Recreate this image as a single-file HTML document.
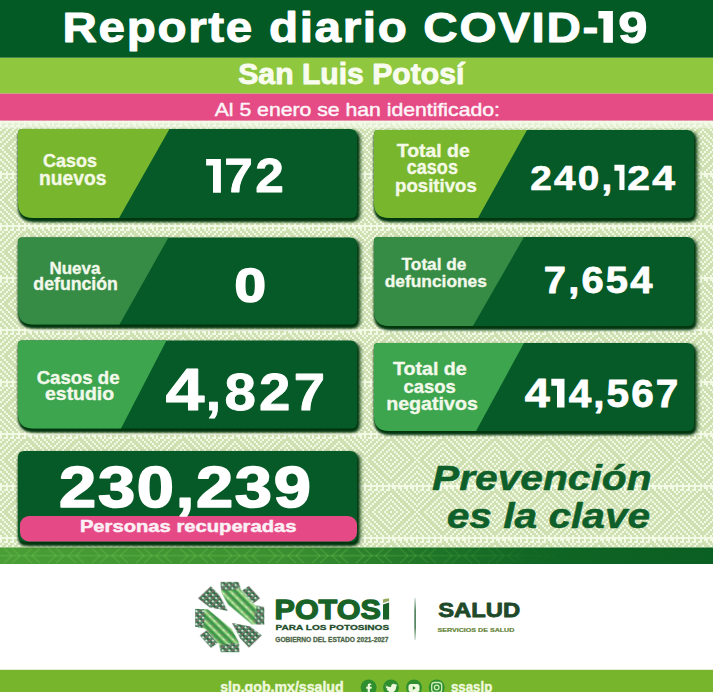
<!DOCTYPE html>
<html><head><meta charset="utf-8">
<style>
html,body{margin:0;padding:0;background:#fff;}
body{width:718px;height:692px;overflow:hidden;position:relative;}
svg{position:absolute;left:0;top:0;display:block;}
text{font-family:"Liberation Sans",sans-serif;}
</style></head><body>
<svg width="718" height="692" viewBox="0 0 718 692">
<defs>
<filter id="blur2" x="-5%" y="-10%" width="110%" height="130%"><feGaussianBlur stdDeviation="1.9"/></filter>
<filter id="blur" x="-5%" y="-10%" width="110%" height="130%"><feGaussianBlur stdDeviation="0.9"/></filter>
<pattern id="greca" x="0" y="121" width="52" height="52" patternUnits="userSpaceOnUse">
<rect width="52" height="52" fill="#cfe1b3"/>
<path d="M0 0h52v2h-52zM0 2h2v2h-2zM6 2h2v2h-2zM12 2h2v2h-2zM18 2h2v2h-2zM24 2h2v2h-2zM28 2h4v2h-4zM34 2h4v2h-4zM40 2h4v2h-4zM46 2h4v2h-4zM0 4h2v2h-2zM4 4h4v2h-4zM10 4h4v2h-4zM16 4h4v2h-4zM22 4h4v2h-4zM30 4h2v2h-2zM36 4h2v2h-2zM42 4h2v2h-2zM48 4h2v2h-2zM2 6h2v2h-2zM8 6h2v2h-2zM14 6h2v2h-2zM20 6h2v2h-2zM32 6h2v2h-2zM38 6h2v2h-2zM44 6h2v2h-2zM50 6h2v2h-2zM0 8h2v2h-2zM6 8h2v2h-2zM12 8h2v2h-2zM18 8h2v2h-2zM26 8h2v2h-2zM34 8h2v2h-2zM40 8h2v2h-2zM46 8h2v2h-2zM4 10h2v2h-2zM10 10h2v2h-2zM16 10h2v2h-2zM24 10h2v2h-2zM28 10h2v2h-2zM36 10h2v2h-2zM42 10h2v2h-2zM48 10h2v2h-2zM2 12h2v2h-2zM8 12h2v2h-2zM14 12h2v2h-2zM22 12h2v2h-2zM30 12h2v2h-2zM38 12h2v2h-2zM44 12h2v2h-2zM50 12h2v2h-2zM0 14h2v2h-2zM6 14h2v2h-2zM12 14h2v2h-2zM20 14h2v2h-2zM26 14h2v2h-2zM32 14h2v2h-2zM40 14h2v2h-2zM46 14h2v2h-2zM4 16h2v2h-2zM10 16h2v2h-2zM18 16h2v2h-2zM24 16h2v2h-2zM28 16h2v2h-2zM34 16h2v2h-2zM42 16h2v2h-2zM48 16h2v2h-2zM2 18h2v2h-2zM8 18h2v2h-2zM16 18h2v2h-2zM22 18h2v2h-2zM30 18h2v2h-2zM36 18h2v2h-2zM44 18h2v2h-2zM50 18h2v2h-2zM0 20h2v2h-2zM6 20h2v2h-2zM14 20h2v2h-2zM20 20h2v2h-2zM26 20h2v2h-2zM32 20h2v2h-2zM38 20h2v2h-2zM46 20h2v2h-2zM4 22h2v2h-2zM12 22h2v2h-2zM18 22h2v2h-2zM24 22h2v2h-2zM28 22h2v2h-2zM34 22h2v2h-2zM40 22h2v2h-2zM48 22h2v2h-2zM2 24h2v2h-2zM10 24h2v2h-2zM16 24h2v2h-2zM22 24h2v2h-2zM30 24h2v2h-2zM36 24h2v2h-2zM42 24h2v2h-2zM50 24h2v2h-2zM0 26h2v2h-2zM8 26h2v2h-2zM14 26h2v2h-2zM20 26h2v2h-2zM26 26h2v2h-2zM32 26h2v2h-2zM38 26h2v2h-2zM44 26h2v2h-2zM2 28h2v2h-2zM10 28h2v2h-2zM16 28h2v2h-2zM22 28h2v2h-2zM30 28h2v2h-2zM36 28h2v2h-2zM42 28h2v2h-2zM50 28h2v2h-2zM4 30h2v2h-2zM12 30h2v2h-2zM18 30h2v2h-2zM24 30h2v2h-2zM28 30h2v2h-2zM34 30h2v2h-2zM40 30h2v2h-2zM48 30h2v2h-2zM0 32h2v2h-2zM6 32h2v2h-2zM14 32h2v2h-2zM20 32h2v2h-2zM26 32h2v2h-2zM32 32h2v2h-2zM38 32h2v2h-2zM46 32h2v2h-2zM2 34h2v2h-2zM8 34h2v2h-2zM16 34h2v2h-2zM22 34h2v2h-2zM30 34h2v2h-2zM36 34h2v2h-2zM44 34h2v2h-2zM50 34h2v2h-2zM4 36h2v2h-2zM10 36h2v2h-2zM18 36h2v2h-2zM24 36h2v2h-2zM28 36h2v2h-2zM34 36h2v2h-2zM42 36h2v2h-2zM48 36h2v2h-2zM0 38h2v2h-2zM6 38h2v2h-2zM12 38h2v2h-2zM20 38h2v2h-2zM26 38h2v2h-2zM32 38h2v2h-2zM40 38h2v2h-2zM46 38h2v2h-2zM2 40h2v2h-2zM8 40h2v2h-2zM14 40h2v2h-2zM22 40h2v2h-2zM30 40h2v2h-2zM38 40h2v2h-2zM44 40h2v2h-2zM50 40h2v2h-2zM4 42h2v2h-2zM10 42h2v2h-2zM16 42h2v2h-2zM24 42h2v2h-2zM28 42h2v2h-2zM36 42h2v2h-2zM42 42h2v2h-2zM48 42h2v2h-2zM0 44h2v2h-2zM6 44h2v2h-2zM12 44h2v2h-2zM18 44h2v2h-2zM26 44h2v2h-2zM34 44h2v2h-2zM40 44h2v2h-2zM46 44h2v2h-2zM2 46h2v2h-2zM8 46h2v2h-2zM14 46h2v2h-2zM20 46h2v2h-2zM32 46h2v2h-2zM38 46h2v2h-2zM44 46h2v2h-2zM50 46h2v2h-2zM4 48h2v2h-2zM10 48h2v2h-2zM16 48h2v2h-2zM22 48h2v2h-2zM30 48h2v2h-2zM36 48h2v2h-2zM42 48h2v2h-2zM48 48h2v2h-2zM0 50h2v2h-2zM6 50h2v2h-2zM12 50h2v2h-2zM18 50h2v2h-2zM24 50h2v2h-2zM28 50h2v2h-2zM34 50h2v2h-2zM40 50h2v2h-2zM46 50h2v2h-2z" fill="#f2f9e5" shape-rendering="crispEdges"/>
</pattern>
<pattern id="chev" x="0" y="547.5" width="44" height="16.5" patternUnits="userSpaceOnUse">
<g fill="none" stroke="#7ccf5a" stroke-opacity="0.28" stroke-width="1.3">
<path d="M4 1 L12 8.25 L4 15.5 M12 1 L20 8.25 L12 15.5 M40 1 L32 8.25 L40 15.5 M32 1 L24 8.25 L32 15.5"/>
<path d="M0 8.25 H44" stroke-opacity="0.3"/>
</g>
</pattern>
<pattern id="embA" x="0" y="0" width="48" height="48" patternUnits="userSpaceOnUse" patternTransform="rotate(45)">
<rect x="0" y="0" width="22" height="22" fill="#a6dc8a" opacity="0.85"/>
<rect x="26" y="26" width="16" height="16" fill="#166c31" opacity="0.8"/>
<rect x="28" y="2" width="14" height="14" fill="#e0609a" opacity="0.65"/>
<rect x="4" y="28" width="14" height="14" fill="#ffffff" opacity="0.8"/>
</pattern>
<pattern id="embS" x="0" y="0" width="56" height="56" patternUnits="userSpaceOnUse" patternTransform="rotate(45)">
<rect x="0" y="0" width="56" height="18" fill="#a3dc86"/>
<rect x="0" y="28" width="56" height="12" fill="#1f7a38" opacity="0.8"/>
<rect x="20" y="0" width="14" height="14" fill="#ffffff" opacity="0.6"/>
<rect x="40" y="42" width="12" height="12" fill="#e0609a" opacity="0.7"/>
</pattern>
<pattern id="embC" x="0" y="0" width="40" height="40" patternUnits="userSpaceOnUse" patternTransform="rotate(45)">
<rect x="0" y="0" width="18" height="18" fill="#ffffff" opacity="0.9"/>
<rect x="20" y="20" width="16" height="16" fill="#dc5d95" opacity="0.85"/>
<rect x="22" y="2" width="12" height="12" fill="#ffffff" opacity="0.45"/>
</pattern>
<linearGradient id="strip" x1="0" x2="1" y1="0" y2="0">
<stop offset="0" stop-color="#4a9e36"/>
<stop offset="0.4" stop-color="#3a9030"/>
<stop offset="0.6" stop-color="#1f7527"/>
<stop offset="0.75" stop-color="#106624"/>
<stop offset="1" stop-color="#0a5f22"/>
</linearGradient>
<linearGradient id="fade" x1="0" x2="1" y1="0" y2="0">
<stop offset="0" stop-color="#fff"/>
<stop offset="0.5" stop-color="#fff"/>
<stop offset="0.8" stop-color="#000"/>
</linearGradient>
<mask id="chevmask" maskUnits="userSpaceOnUse" x="0" y="540" width="718" height="30"><rect x="0" y="540" width="713" height="30" fill="url(#fade)"/></mask>
<linearGradient id="sep" x1="0" x2="0" y1="0" y2="1">
<stop offset="0" stop-color="#2e6b3a" stop-opacity="0.2"/>
<stop offset="0.3" stop-color="#2e6b3a"/>
<stop offset="0.7" stop-color="#2e6b3a"/>
<stop offset="1" stop-color="#2e6b3a" stop-opacity="0.2"/>
</linearGradient>
</defs>
<rect x="0" y="0" width="718" height="692" fill="#ffffff"/>
<rect x="0" y="0" width="713" height="57.8" fill="#035a25"/>
<rect x="0" y="57.8" width="713" height="35.8" fill="#8fc73f"/>
<rect x="0" y="93.6" width="713" height="27.2" fill="#e54b84"/>
<rect x="0" y="120.8" width="713" height="427" fill="url(#greca)"/>
<rect x="0" y="120.8" width="713" height="7.5" fill="#f3f9e8" opacity="0.6"/>
<rect x="0" y="547.5" width="713" height="16.5" fill="url(#strip)"/>
<rect x="0" y="547.5" width="713" height="16.5" fill="url(#chev)" mask="url(#chevmask)"/>
<rect x="0" y="669.8" width="713" height="22.2" fill="#76b52c"/>
<clipPath id="c18_129"><path d="M22,129 H350 Q357,129 357,136 V212 Q357,218 351,218 H33 Q18,218 18,203 V133 Q18,129 22,129 Z"/></clipPath>
<path d="M22,129 H350 Q357,129 357,136 V212 Q357,218 351,218 H33 Q18,218 18,203 V133 Q18,129 22,129 Z" fill="#033510" opacity="0.95" transform="translate(3.2 2.5)" filter="url(#blur2)"/><path d="M22,129 H350 Q357,129 357,136 V212 Q357,218 351,218 H33 Q18,218 18,203 V133 Q18,129 22,129 Z" fill="#033510" stroke="#033510" stroke-width="1.4" transform="translate(0.5 3)" filter="url(#blur)"/>
<path d="M22,129 H350 Q357,129 357,136 V212 Q357,218 351,218 H33 Q18,218 18,203 V133 Q18,129 22,129 Z" fill="#055a27"/>
<polygon clip-path="url(#c18_129)" points="13,124 172.3,124 116.2,223 13,223" fill="#78b62e"/><clipPath id="c18_237"><path d="M22,237.5 H350 Q357,237.5 357,244.5 V318.5 Q357,324.5 351,324.5 H33 Q18,324.5 18,309.5 V241.5 Q18,237.5 22,237.5 Z"/></clipPath>
<path d="M22,237.5 H350 Q357,237.5 357,244.5 V318.5 Q357,324.5 351,324.5 H33 Q18,324.5 18,309.5 V241.5 Q18,237.5 22,237.5 Z" fill="#033510" opacity="0.95" transform="translate(3.2 2.5)" filter="url(#blur2)"/><path d="M22,237.5 H350 Q357,237.5 357,244.5 V318.5 Q357,324.5 351,324.5 H33 Q18,324.5 18,309.5 V241.5 Q18,237.5 22,237.5 Z" fill="#033510" stroke="#033510" stroke-width="1.4" transform="translate(0.5 3)" filter="url(#blur)"/>
<path d="M22,237.5 H350 Q357,237.5 357,244.5 V318.5 Q357,324.5 351,324.5 H33 Q18,324.5 18,309.5 V241.5 Q18,237.5 22,237.5 Z" fill="#055a27"/>
<polygon clip-path="url(#c18_237)" points="13,232.5 171.3,232.5 116.7,329.5 13,329.5" fill="#368b45"/><clipPath id="c18_340"><path d="M22,340.5 H350 Q357,340.5 357,347.5 V422.5 Q357,428.5 351,428.5 H33 Q18,428.5 18,413.5 V344.5 Q18,340.5 22,340.5 Z"/></clipPath>
<path d="M22,340.5 H350 Q357,340.5 357,347.5 V422.5 Q357,428.5 351,428.5 H33 Q18,428.5 18,413.5 V344.5 Q18,340.5 22,340.5 Z" fill="#033510" opacity="0.95" transform="translate(3.2 2.5)" filter="url(#blur2)"/><path d="M22,340.5 H350 Q357,340.5 357,347.5 V422.5 Q357,428.5 351,428.5 H33 Q18,428.5 18,413.5 V344.5 Q18,340.5 22,340.5 Z" fill="#033510" stroke="#033510" stroke-width="1.4" transform="translate(0.5 3)" filter="url(#blur)"/>
<path d="M22,340.5 H350 Q357,340.5 357,347.5 V422.5 Q357,428.5 351,428.5 H33 Q18,428.5 18,413.5 V344.5 Q18,340.5 22,340.5 Z" fill="#055a27"/>
<polygon clip-path="url(#c18_340)" points="13,335.5 169.1,335.5 118.4,433.5 13,433.5" fill="#3da54e"/><clipPath id="c374_130"><path d="M378,130 H687 Q694,130 694,137 V212 Q694,218 688,218 H389 Q374,218 374,203 V134 Q374,130 378,130 Z"/></clipPath>
<path d="M378,130 H687 Q694,130 694,137 V212 Q694,218 688,218 H389 Q374,218 374,203 V134 Q374,130 378,130 Z" fill="#033510" opacity="0.95" transform="translate(3.2 2.5)" filter="url(#blur2)"/><path d="M378,130 H687 Q694,130 694,137 V212 Q694,218 688,218 H389 Q374,218 374,203 V134 Q374,130 378,130 Z" fill="#033510" stroke="#033510" stroke-width="1.4" transform="translate(0.5 3)" filter="url(#blur)"/>
<path d="M378,130 H687 Q694,130 694,137 V212 Q694,218 688,218 H389 Q374,218 374,203 V134 Q374,130 378,130 Z" fill="#055a27"/>
<polygon clip-path="url(#c374_130)" points="369,125 529.8,125 475.2,223 369,223" fill="#78b62e"/><clipPath id="c374_237"><path d="M378,237 H687 Q694,237 694,244 V320 Q694,326 688,326 H389 Q374,326 374,311 V241 Q374,237 378,237 Z"/></clipPath>
<path d="M378,237 H687 Q694,237 694,244 V320 Q694,326 688,326 H389 Q374,326 374,311 V241 Q374,237 378,237 Z" fill="#033510" opacity="0.95" transform="translate(3.2 2.5)" filter="url(#blur2)"/><path d="M378,237 H687 Q694,237 694,244 V320 Q694,326 688,326 H389 Q374,326 374,311 V241 Q374,237 378,237 Z" fill="#033510" stroke="#033510" stroke-width="1.4" transform="translate(0.5 3)" filter="url(#blur)"/>
<path d="M378,237 H687 Q694,237 694,244 V320 Q694,326 688,326 H389 Q374,326 374,311 V241 Q374,237 378,237 Z" fill="#055a27"/>
<polygon clip-path="url(#c374_237)" points="369,232 526.9,232 470.1,331 369,331" fill="#368b45"/><clipPath id="c374_343"><path d="M378,343 H687 Q694,343 694,350 V425 Q694,431 688,431 H389 Q374,431 374,416 V347 Q374,343 378,343 Z"/></clipPath>
<path d="M378,343 H687 Q694,343 694,350 V425 Q694,431 688,431 H389 Q374,431 374,416 V347 Q374,343 378,343 Z" fill="#033510" opacity="0.95" transform="translate(3.2 2.5)" filter="url(#blur2)"/><path d="M378,343 H687 Q694,343 694,350 V425 Q694,431 688,431 H389 Q374,431 374,416 V347 Q374,343 378,343 Z" fill="#033510" stroke="#033510" stroke-width="1.4" transform="translate(0.5 3)" filter="url(#blur)"/>
<path d="M378,343 H687 Q694,343 694,350 V425 Q694,431 688,431 H389 Q374,431 374,416 V347 Q374,343 378,343 Z" fill="#055a27"/>
<polygon clip-path="url(#c374_343)" points="369,338 526.7,338 473.3,436 369,436" fill="#3da54e"/><path d="M24,451 H350 Q357,451 357,458 V536 Q357,542 351,542 H26 Q18,542 18,534 V457 Q18,451 24,451 Z" fill="#033510" opacity="0.95" transform="translate(3.2 2.5)" filter="url(#blur2)"/><path d="M24,451 H350 Q357,451 357,458 V536 Q357,542 351,542 H26 Q18,542 18,534 V457 Q18,451 24,451 Z" fill="#033510" stroke="#033510" stroke-width="1.4" transform="translate(0.5 3)" filter="url(#blur)"/>
<path d="M24,451 H350 Q357,451 357,458 V536 Q357,542 351,542 H26 Q18,542 18,534 V457 Q18,451 24,451 Z" fill="#055a27"/>
<rect x="20" y="516" width="337" height="25.5" rx="9" fill="#e64a86"/>
<g opacity="0.95" transform="translate(190 577) scale(0.11561)"><clipPath id="clipA"><polygon points="262,40 420,40 440,110 560,245 645,262 645,415 535,408 440,330 330,238 270,130"/></clipPath><clipPath id="clipB"><polygon points="428,650 270,650 250,580 130,445 45,428 45,275 155,282 250,360 360,452 420,560"/></clipPath><g clip-path="url(#clipA)"><rect x="0" y="0" width="692" height="692" fill="#4aa94c"/><rect x="0" y="0" width="692" height="692" fill="url(#embS)"/><polygon points="250,30 430,30 436,95 330,120 262,110" fill="#14652f" /><polygon points="250,30 430,30 436,95 330,120 262,110" fill="url(#embC)" /><polygon points="585,240 660,250 660,430 570,420 560,330" fill="#14652f" /><polygon points="585,240 660,250 660,430 570,420 560,330" fill="url(#embC)" /></g><g clip-path="url(#clipB)"><rect x="0" y="0" width="692" height="692" fill="#4aa94c"/><rect x="0" y="0" width="692" height="692" fill="url(#embS)"/><polygon points="440,660 260,660 254,595 360,570 428,580" fill="#14652f" /><polygon points="440,660 260,660 254,595 360,570 428,580" fill="url(#embC)" /><polygon points="105,450 30,440 30,260 120,270 130,360" fill="#14652f" /><polygon points="105,450 30,440 30,260 120,270 130,360" fill="url(#embC)" /></g><polygon points="70,185 180,80 255,160 325,292 170,262" fill="#11602c" /><polygon points="70,185 180,80 255,160 325,292 170,262" fill="url(#embC)" /><polygon points="620,505 510,610 435,530 365,398 520,428" fill="#11602c" /><polygon points="620,505 510,610 435,530 365,398 520,428" fill="url(#embC)" /><polygon points="452,118 508,78 605,185 548,228" fill="#11602c" /><polygon points="452,118 508,78 605,185 548,228" fill="url(#embC)" /><polygon points="238,572 182,612 85,505 142,462" fill="#11602c" /><polygon points="238,572 182,612 85,505 142,462" fill="url(#embC)" /></g>
<path d="M383 604.6 L389.1 602.6 V619.5 H383 Z" fill="#1a6328"/><path d="M383 599.6 Q386 598.2 389.1 598.6 V600.9 L383 603 Z" fill="#94ab5e"/>
<rect x="414.4" y="598" width="1.4" height="42" fill="url(#sep)"/>
<text transform="translate(62.45 42.10) scale(1.0997 1)" font-size="43.33" fill="#ffffff" stroke="#ffffff" stroke-width="1.0" stroke-linejoin="round" style="font-weight:bold;letter-spacing:1.5px">Reporte diario COVID-</text>
<text transform="translate(618.36 42.50) scale(1.1952 1)" font-size="44.00" fill="#ffffff" stroke="#ffffff" stroke-width="1.0" stroke-linejoin="round" style="font-weight:bold;letter-spacing:0.0px">9</text>
<text transform="translate(238.27 83.95) scale(1.0508 1)" font-size="28.70" fill="#f8fcee" stroke="#f8fcee" stroke-width="0.9" stroke-linejoin="round" style="font-weight:bold;letter-spacing:0.0px">San Luis Potosí</text>
<text transform="translate(214.66 116.28) scale(1.1578 1)" font-size="18.33" fill="#fdf4f8" stroke="#fdf4f8" stroke-width="0.45" stroke-linejoin="round" style="font-weight:normal;letter-spacing:0.0px">Al 5 enero se han identificado:</text>
<text transform="translate(42.96 167.12) scale(1.0038 1)" font-size="17.93" fill="#f4f9e6" stroke="#f4f9e6" stroke-width="0.35" stroke-linejoin="round" style="font-weight:bold;letter-spacing:0.0px">Casos</text>
<text transform="translate(38.92 184.62) scale(0.9779 1)" font-size="19.72" fill="#f4f9e6" stroke="#f4f9e6" stroke-width="0.35" stroke-linejoin="round" style="font-weight:bold;letter-spacing:0.0px">nuevos</text>
<text transform="translate(224.37 192.40) scale(1.0757 1)" font-size="47.83" fill="#ffffff" stroke="#ffffff" stroke-width="0.8" stroke-linejoin="round" style="font-weight:bold;letter-spacing:2.0px">72</text>
<text transform="translate(49.39 274.43) scale(1.0901 1)" font-size="15.58" fill="#f2f8ea" stroke="#f2f8ea" stroke-width="0.35" stroke-linejoin="round" style="font-weight:bold;letter-spacing:0.0px">Nueva</text>
<text transform="translate(33.37 290.43) scale(1.0065 1)" font-size="17.59" fill="#f2f8ea" stroke="#f2f8ea" stroke-width="0.35" stroke-linejoin="round" style="font-weight:bold;letter-spacing:0.0px">defunción</text>
<text transform="translate(234.59 301.50) scale(1.1970 1)" font-size="47.29" fill="#ffffff" stroke="#ffffff" stroke-width="1.6" stroke-linejoin="round" style="font-weight:bold;letter-spacing:0px">0</text>
<text transform="translate(36.64 383.52) scale(1.0661 1)" font-size="17.50" fill="#f2f8ea" stroke="#f2f8ea" stroke-width="0.35" stroke-linejoin="round" style="font-weight:bold;letter-spacing:0.0px">Casos de</text>
<text transform="translate(45.01 400.22) scale(1.0978 1)" font-size="17.72" fill="#f2f8ea" stroke="#f2f8ea" stroke-width="0.35" stroke-linejoin="round" style="font-weight:bold;letter-spacing:0.0px">estudio</text>
<text transform="translate(165.48 409.55) scale(1.1780 1)" font-size="59.57" fill="#ffffff" stroke="#ffffff" stroke-width="0.9" stroke-linejoin="round" style="font-weight:bold;letter-spacing:0.0px">4</text>
<text transform="translate(205.48 409.60) scale(1.0917 1)" font-size="51.71" fill="#ffffff" stroke="#ffffff" stroke-width="0.8" stroke-linejoin="round" style="font-weight:bold;letter-spacing:3.0px">,827</text>
<text transform="translate(59.09 506.80) scale(1.1544 1)" font-size="57.86" fill="#ffffff" stroke="#ffffff" stroke-width="1.6" stroke-linejoin="round" style="font-weight:bold;letter-spacing:1.5px">230,239</text>
<text transform="translate(79.88 532.35) scale(1.1912 1)" font-size="16.96" fill="#fbf0f5" stroke="#fbf0f5" stroke-width="0.5" stroke-linejoin="round" style="font-weight:bold;letter-spacing:0.0px">Personas recuperadas</text>
<text transform="translate(396.80 156.62) scale(1.1024 1)" font-size="17.61" fill="#f4f9e6" stroke="#f4f9e6" stroke-width="0.35" stroke-linejoin="round" style="font-weight:bold;letter-spacing:0.0px">Total de</text>
<text transform="translate(406.73 174.32) scale(0.8993 1)" font-size="20.09" fill="#f4f9e6" stroke="#f4f9e6" stroke-width="0.35" stroke-linejoin="round" style="font-weight:bold;letter-spacing:0.0px">casos</text>
<text transform="translate(395.07 191.82) scale(1.0286 1)" font-size="18.09" fill="#f4f9e6" stroke="#f4f9e6" stroke-width="0.35" stroke-linejoin="round" style="font-weight:bold;letter-spacing:0.0px">positivos</text>
<text transform="translate(530.33 189.65) scale(1.0921 1)" font-size="35.43" fill="#ffffff" stroke="#ffffff" stroke-width="0.7" stroke-linejoin="round" style="font-weight:bold;letter-spacing:2.0px">240,</text>
<text transform="translate(627.17 189.65) scale(1.1662 1)" font-size="35.14" fill="#ffffff" stroke="#ffffff" stroke-width="0.7" stroke-linejoin="round" style="font-weight:bold;letter-spacing:2.0px">24</text>
<text transform="translate(401.62 270.22) scale(1.0761 1)" font-size="16.01" fill="#f2f8ea" stroke="#f2f8ea" stroke-width="0.35" stroke-linejoin="round" style="font-weight:bold;letter-spacing:0.0px">Total de</text>
<text transform="translate(384.79 286.52) scale(1.0519 1)" font-size="16.48" fill="#f2f8ea" stroke="#f2f8ea" stroke-width="0.35" stroke-linejoin="round" style="font-weight:bold;letter-spacing:0.0px">defunciones</text>
<text transform="translate(543.83 292.60) scale(1.0811 1)" font-size="36.96" fill="#ffffff" stroke="#ffffff" stroke-width="0.8" stroke-linejoin="round" style="font-weight:bold;letter-spacing:2.0px">7,654</text>
<text transform="translate(392.90 374.52) scale(1.1253 1)" font-size="17.46" fill="#f2f8ea" stroke="#f2f8ea" stroke-width="0.35" stroke-linejoin="round" style="font-weight:bold;letter-spacing:0.0px">Total de</text>
<text transform="translate(403.53 393.12) scale(0.9640 1)" font-size="19.15" fill="#f2f8ea" stroke="#f2f8ea" stroke-width="0.35" stroke-linejoin="round" style="font-weight:bold;letter-spacing:0.0px">casos</text>
<text transform="translate(386.21 409.62) scale(1.0684 1)" font-size="18.40" fill="#f2f8ea" stroke="#f2f8ea" stroke-width="0.35" stroke-linejoin="round" style="font-weight:bold;letter-spacing:0.0px">negativos</text>
<text transform="translate(524.77 407.20) scale(1.1106 1)" font-size="40.58" fill="#ffffff" stroke="#ffffff" stroke-width="0.8" stroke-linejoin="round" style="font-weight:bold;letter-spacing:0.0px">4</text>
<text transform="translate(568.70 407.00) scale(1.0209 1)" font-size="39.71" fill="#ffffff" stroke="#ffffff" stroke-width="0.8" stroke-linejoin="round" style="font-weight:bold;letter-spacing:2.0px">4,567</text>
<text transform="translate(431.98 489.85) scale(1.1864 1)" font-size="34.35" fill="#0f5f2b" stroke="#0f5f2b" stroke-width="0.5" stroke-linejoin="round" style="font-weight:bold;font-style:italic;letter-spacing:0.0px">Prevención</text>
<text transform="translate(446.67 528.25) scale(1.1620 1)" font-size="35.00" fill="#0f5f2b" stroke="#0f5f2b" stroke-width="0.5" stroke-linejoin="round" style="font-weight:bold;font-style:italic;letter-spacing:0.0px">es la clave</text>
<text transform="translate(274.52 618.85) scale(1.0858 1)" font-size="28.12" fill="#1a6328" stroke="#1a6328" stroke-width="1.3" stroke-linejoin="round" style="font-weight:bold;letter-spacing:0.0px">POTOS</text>
<text transform="translate(275.53 629.85) scale(1.2435 1)" font-size="8.12" fill="#1e4d2b" stroke="#1e4d2b" stroke-width="0.3" stroke-linejoin="round" style="font-weight:bold;letter-spacing:0.0px">PARA LOS POTOSINOS</text>
<text transform="translate(275.29 641.55) scale(1.0073 1)" font-size="6.57" fill="#4d6848" stroke="#4d6848" stroke-width="0.3" stroke-linejoin="round" style="font-weight:bold;letter-spacing:0.0px">GOBIERNO DEL ESTADO 2021-2027</text>
<text transform="translate(438.16 616.60) scale(1.1726 1)" font-size="20.29" fill="#1f4a2a" stroke="#1f4a2a" stroke-width="0.8" stroke-linejoin="round" style="font-weight:bold;letter-spacing:0.0px">SALUD</text>
<text transform="translate(437.51 631.70) scale(1.2484 1)" font-size="5.71" fill="#648538" stroke="#648538" stroke-width="0.2" stroke-linejoin="round" style="font-weight:bold;letter-spacing:0.0px">SERVICIOS DE SALUD</text>
<text transform="translate(220.24 692.25) scale(0.9432 1)" font-size="15.00" fill="#eef8dc" stroke="#eef8dc" stroke-width="0.5" stroke-linejoin="round" style="font-weight:bold;letter-spacing:0.0px">slp.gob.mx/ssalud</text>
<text transform="translate(450.96 692.25) scale(0.8850 1)" font-size="15.00" fill="#eef8dc" stroke="#eef8dc" stroke-width="0.5" stroke-linejoin="round" style="font-weight:bold;letter-spacing:0.0px">ssaslp</text>
<path d="M598.4 11 H612.9 V42.8 H603.4 V18.4 H598.4 Z M206.1 159 H220.9 V192.8 H213 V165.4 H206.1 Z M614.4 164.8 H624.5 V190 H619.4 V170.7 H614.4 Z M551.3 378.8 H564.5 V407.6 H557 V385.7 H551.3 Z" fill="#ffffff"/>
<circle cx="368.6" cy="687.5" r="8" fill="#2f8f2f"/><circle cx="391" cy="687.5" r="8" fill="#2f8f2f"/><circle cx="414" cy="687.5" r="8" fill="#2f8f2f"/><circle cx="436.7" cy="687.5" r="8" fill="#2f8f2f"/><path d="M370.5 683.5 h-1.2 q-1.6 0 -1.6 1.7 v1.6 h-1.5 v2 h1.5 v5 h2.2 v-5 h1.6 l0.3 -2 h-1.9 v-1.2 q0 -0.6 0.6 -0.6 h1.2 z" fill="#eef8dc"/><path d="M386 685.5 q2.5 1.6 5 1.5 q-0.3 -2.5 2 -3.2 q1.3 -0.3 2.3 0.7 l1.6 -0.6 l-0.8 1.4 l1.3 -0.3 l-1.1 1.2 q0 4.5 -4 6.5 q-3 1.3 -6.5 -0.3 q2.2 0 3.5 -1.2 q-2.3 -0.4 -2.8 -2 q0.8 0.1 1.2 -0.1 q-2 -0.8 -2.1 -2.7 q0.6 0.3 1.2 0.3 q-1.6 -1.3 -0.8 -3.2 z" fill="#eef8dc"/><rect x="408.5" y="684" width="11" height="8" rx="2.5" fill="#eef8dc"/><path d="M412.8 686 l3 2 l-3 2 z" fill="#2f8f2f"/><rect x="431.7" y="682.5" width="10" height="10" rx="3" fill="none" stroke="#cdeebb" stroke-width="1.3"/><circle cx="436.7" cy="687.5" r="2.3" fill="none" stroke="#cdeebb" stroke-width="1.3"/>
</svg>
</body></html>
